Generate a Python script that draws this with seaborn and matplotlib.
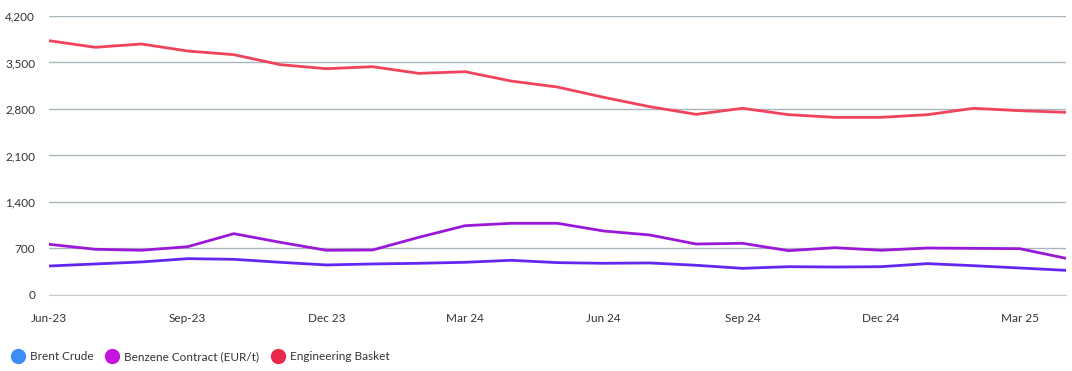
import pandas as pd
import numpy as np
import matplotlib.pyplot as plt
import seaborn as sns
from matplotlib.lines import Line2D

sns.set_style('white')
plt.rcParams['font.family'] = ['Lato', 'DejaVu Sans']

months = ['Jun-23', 'Jul-23', 'Aug-23', 'Sep-23', 'Oct-23', 'Nov-23', 'Dec-23',
          'Jan-24', 'Feb-24', 'Mar-24', 'Apr-24', 'May-24', 'Jun-24', 'Jul-24',
          'Aug-24', 'Sep-24', 'Oct-24', 'Nov-24', 'Dec-24', 'Jan-25', 'Feb-25',
          'Mar-25', 'Apr-25']
brent = [436, 467, 497, 547, 537, 492, 452, 467, 477, 492, 522, 487,
         477, 482, 447, 401, 426, 421, 426, 472, 441, 406, 371]
benzene = [763, 688, 673, 727, 923, 793, 673, 677, 868, 1043, 1079, 1079,
           963, 903, 767, 778, 667, 712, 673, 707, 702, 697, 552]
engineering = [3828, 3728, 3778, 3672, 3617, 3467, 3406, 3436, 3336, 3361, 3220, 3130,
               2975, 2834, 2719, 2810, 2714, 2674, 2674, 2714, 2810, 2774, 2749]
tick_labels = ['Jun-23', '', '', 'Sep-23', '', '', 'Dec 23', '', '', 'Mar 24', '', '',
               'Jun 24', '', '', 'Sep 24', '', '', 'Dec 24', '', '', 'Mar 25', '']

series = ['Brent Crude', 'Benzene Contract (EUR/t)', 'Engineering Basket']
line_colors = ['#6526f2', '#9a18d8', '#f0435c']
legend_colors = ['#3d8ff7', '#c413dd', '#e8294a']

df = pd.DataFrame({'month': months, 'idx': range(len(months)),
                   series[0]: brent, series[1]: benzene, series[2]: engineering})
long = df.melt(id_vars=['month', 'idx'], value_vars=series, var_name='series', value_name='value')

fig = plt.figure(figsize=(10.72, 3.71), dpi=100)
ax = fig.add_axes([0.0457, 0.2049, 0.9487, 0.7521])
sns.lineplot(data=long, x='idx', y='value', hue='series', hue_order=series,
             palette=line_colors, linewidth=2, legend=False, ax=ax)

ax.set_xlim(0, len(months) - 1)
ax.set_ylim(0, 4200)
ax.set_yticks(np.arange(0, 4201, 700))
ax.set_yticklabels([f'{v:,}' for v in range(0, 4201, 700)], fontsize=8.5, color='#333333')
ax.set_xticks(range(len(months)))
ax.set_xticklabels(tick_labels, fontsize=8.5, color='#333333')
ax.set_xlabel('')
ax.set_ylabel('')
ax.grid(axis='y', color='#a9b5bd', linewidth=1)
ax.tick_params(axis='x', length=6, color='#c8ced3', pad=7)
ax.tick_params(axis='y', length=0, pad=10)
for s in ['top', 'right', 'left']:
    ax.spines[s].set_visible(False)
ax.spines['bottom'].set_color('#c8ced3')

handles = [Line2D([], [], marker='o', linestyle='', markersize=10, color=c) for c in legend_colors]
fig.legend(handles, series, loc='lower left', bbox_to_anchor=(-0.004, -0.005), ncol=3, frameon=False,
           fontsize=8.5, handletextpad=0.0, columnspacing=0.6, labelcolor='#333333')

fig.savefig('out.png', dpi=100)
